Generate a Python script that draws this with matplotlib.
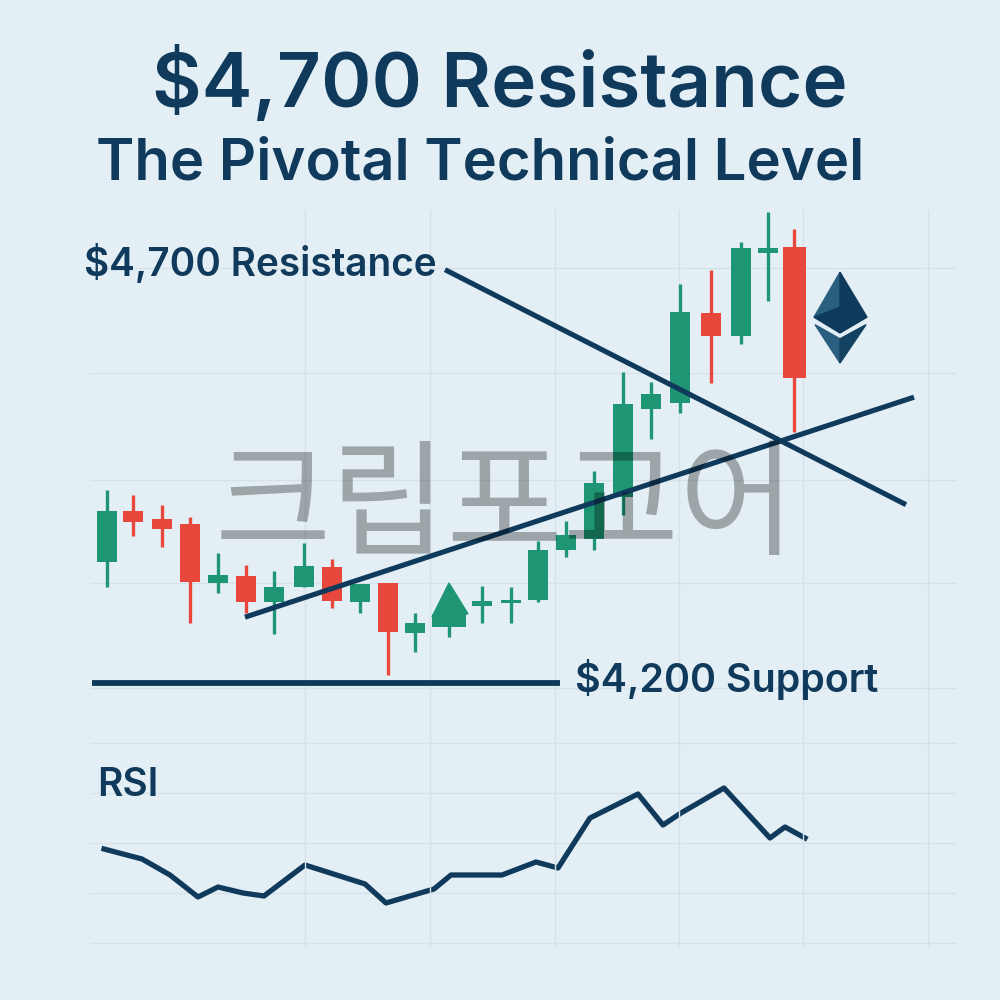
import matplotlib
matplotlib.use('Agg')
import matplotlib.pyplot as plt

# candle data, x is the slot position along the chart
candle_x = [107, 133, 162, 190, 218, 246, 274, 304, 332, 360, 388, 415, 449,
            482, 511, 538, 566, 594, 623, 651, 680, 711, 741, 768, 794]
opens = [4345, 4406, 4397, 4391, 4320, 4328, 4297, 4315, 4339, 4297, 4320, 4260, 4267,
         4292, 4296, 4300, 4360, 4373, 4423, 4529, 4536, 4644, 4616, 4716, 4723]
closes = [4406, 4393, 4385, 4321, 4330, 4297, 4315, 4340, 4298, 4319, 4261, 4272, 4283,
          4298, 4300, 4360, 4378, 4440, 4535, 4547, 4645, 4616, 4722, 4722, 4566]
highs = [4432, 4426, 4414, 4399, 4356, 4342, 4334, 4368, 4349, 4319, 4320, 4284, 4283,
         4316, 4315, 4370, 4394, 4454, 4573, 4561, 4679, 4696, 4729, 4765, 4745]
lows = [4315, 4376, 4363, 4272, 4308, 4284, 4259, 4315, 4290, 4284, 4210, 4237, 4255,
        4272, 4272, 4297, 4351, 4360, 4402, 4493, 4524, 4560, 4607, 4658, 4501]
arrow_slot = 12
arrow_tip = 4320

# trend lines
resist_x = [445, 906]
resist_y = [4696, 4414]
rising_x = [245, 914]
rising_y = [4279, 4543]
support_x = [92, 560]
support_y = [4200, 4200]

# rsi
rsi_x = [104, 142, 170, 198, 218, 243, 264, 305, 365, 386, 434, 451, 502, 536, 558,
         590, 638, 663, 681, 724, 770, 785, 805]
rsi_y = [47.6, 43.6, 37.2, 28.4, 32.4, 30, 28.8, 41.2, 33.6, 26, 31.6, 37.2, 37.2, 42.4, 40,
         60, 69.6, 57.2, 62, 72, 52, 56.4, 52]

grid_x = [305, 430, 555, 679, 803, 928]
grid_price = [4194, 4320, 4444, 4572, 4698]
grid_rsi = [90, 70, 50, 30, 10]

title = '$4,700 Resistance'
subtitle = 'The Pivotal Technical Level'
watermark = '크립포교어'

BG = '#E4EFF5'
GRID = '#D5E2E9'
NAVY = '#0F3A5C'
GREEN = '#1E9673'
RED = '#E8483C'

plt.rcParams['font.family'] = ['Inter', 'DejaVu Sans']

fig = plt.figure(figsize=(10, 10), dpi=100, facecolor=BG)
ax = fig.add_axes([0, 0, 1, 1])
ax.set_xlim(0, 1000)
ax.set_ylim(3819.6, 5019.6)
ax.axis('off')

rax = fig.add_axes([0, 0.05, 1, 0.21])
rax.set_xlim(0, 1000)
rax.set_ylim(7.2, 91.2)
rax.axis('off')

# grid
for g in grid_x:
    ax.plot([g, g], [3885, 4768], color=GRID, lw=1, zorder=1)
for g in grid_price:
    ax.plot([90, 955], [g, g], color=GRID, lw=1, zorder=1)
for g in grid_rsi:
    rax.plot([90, 955], [g, g], color=GRID, lw=1, zorder=1)

# candles
for i in range(len(candle_x)):
    col = GREEN if closes[i] >= opens[i] else RED
    w = 20
    if i == 24:
        w = 23
    if i == arrow_slot:
        w = 34
    ax.plot([candle_x[i], candle_x[i]], [lows[i], highs[i]], color=col, lw=2.4,
            solid_capstyle='butt', zorder=3)
    ax.bar(candle_x[i], abs(closes[i] - opens[i]), bottom=min(opens[i], closes[i]),
           width=w, color=col, zorder=3)

ax.fill([candle_x[arrow_slot] - 17, candle_x[arrow_slot], candle_x[arrow_slot] + 19],
        [closes[arrow_slot] - 4, arrow_tip, closes[arrow_slot]], color=GREEN, zorder=3)

# lines
ax.plot(resist_x, resist_y, color=NAVY, lw=3.7, solid_capstyle='butt', zorder=4)
ax.plot(rising_x, rising_y, color=NAVY, lw=3.7, solid_capstyle='butt', zorder=4)
ax.plot(support_x, support_y, color=NAVY, lw=4.2, solid_capstyle='butt', zorder=4)
rax.plot(rsi_x, rsi_y, color=NAVY, lw=3.8, solid_joinstyle='round', zorder=4)

# eth logo
ax.fill([840, 814, 840], [4693, 4639, 4651], color='#2A5F80', zorder=4)
ax.fill([840, 867, 840], [4693, 4639, 4651], color='#0E3A5C', zorder=4)
ax.fill([814, 840, 867, 840], [4639, 4651, 4639, 4620], color='#0E3A5C', zorder=4)
ax.fill([815, 840, 840], [4630, 4613, 4584], color='#2A5F80', zorder=4)
ax.fill([866, 840, 840], [4630, 4613, 4584], color='#14415F', zorder=4)

# text
ax.text(500, 4891, title, ha='center', va='baseline', fontsize=55, fontweight='semibold', color=NAVY, zorder=6)
ax.text(480, 4804, subtitle, ha='center', va='baseline', fontsize=41.8, fontweight='semibold', color=NAVY, zorder=6)
ax.text(84, 4688, title, ha='left', va='baseline', fontsize=27.9, fontweight='semibold', color=NAVY, zorder=6)
ax.text(575, 4189, '$4,200 Support', ha='left', va='baseline', fontsize=28.4, fontweight='semibold', color=NAVY, zorder=6)
ax.text(97, 4064, 'RSI', ha='left', va='baseline', fontsize=28, fontweight='semibold', color=NAVY, zorder=6)

ax.text(505, 4409, watermark, ha='center', va='center', fontsize=91, color='black', alpha=0.31,
        family=['Noto Sans CJK KR', 'DejaVu Sans'], zorder=8)

rax.set_zorder(2)
ax.set_zorder(3)
fig.savefig('out.png', dpi=100, facecolor=BG)
